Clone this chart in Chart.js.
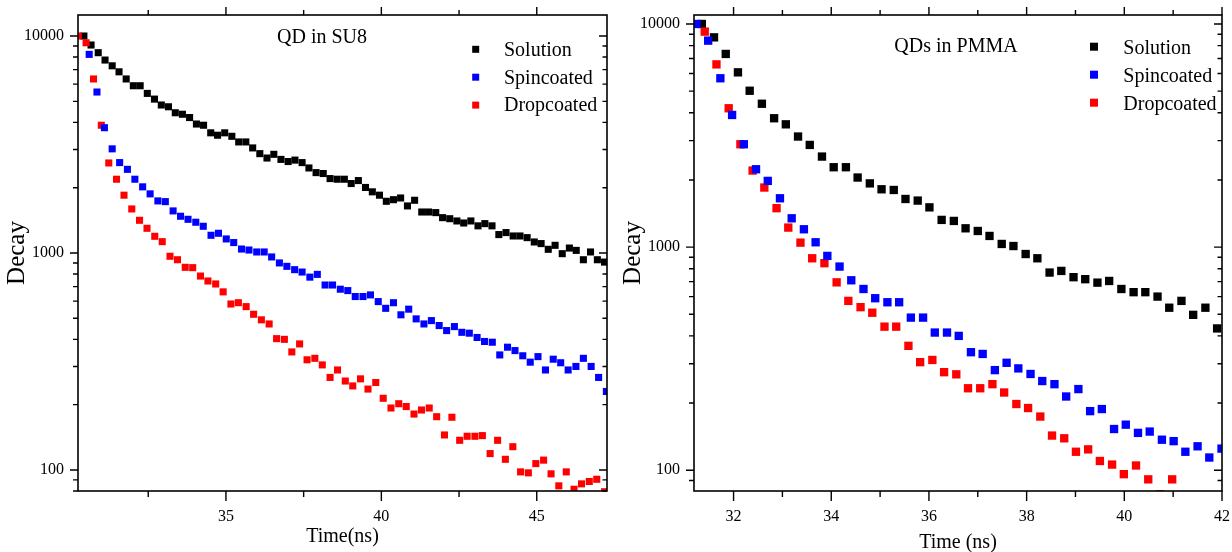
<!DOCTYPE html>
<html><head><meta charset="utf-8">
<script src="https://cdn.jsdelivr.net/npm/chart.js@4.4.0/dist/chart.umd.min.js"></script>
<style>
html,body{margin:0;padding:0;background:#fff;}
#wrap{position:relative;width:1232px;height:552px;overflow:hidden;background:#fff;}
.panel{position:absolute;top:0;width:616px;height:552px;}
</style></head><body>
<div id="wrap">
<div class="panel" style="left:0"><canvas id="c1" width="616" height="552"></canvas></div>
<div class="panel" style="left:616px"><canvas id="c2" width="616" height="552"></canvas></div>
</div>
<script>
// ---------- Left panel: QD in SU8 ----------
const su8TimeSolution = [30.43,30.66,30.89,31.11,31.34,31.56,31.79,32.02,32.24,32.47,32.70,32.92,33.15,33.37,33.60,33.83,34.05,34.28,34.51,34.73,34.96,35.19,35.41,35.64,35.86,36.09,36.32,36.54,36.77,37.00,37.22,37.45,37.67,37.90,38.13,38.35,38.58,38.81,39.03,39.26,39.49,39.71,39.94,40.16,40.39,40.62,40.84,41.07,41.30,41.52,41.75,41.97,42.20,42.43,42.65,42.88,43.11,43.33,43.56,43.78,44.01,44.24,44.46,44.69,44.92,45.14,45.37,45.59,45.82,46.05,46.27,46.50,46.73,46.95,47.18];
const su8Solution = [10000,9090,8380,7750,7290,6840,6340,5900,5900,5440,5120,4810,4720,4430,4360,4210,3930,3880,3580,3490,3580,3450,3250,3250,3050,2870,2740,2850,2700,2640,2680,2610,2466,2347,2324,2203,2188,2188,2090,2157,2005,1914,1847,1731,1761,1793,1648,1750,1545,1545,1535,1455,1439,1405,1375,1405,1334,1366,1334,1216,1242,1198,1198,1177,1124,1105,1040,1085,993,1054,1028,931,1011,931,908];

const su8TimeSpin = [30.60,30.85,31.09,31.34,31.58,31.83,32.07,32.32,32.56,32.81,33.05,33.30,33.54,33.78,34.03,34.27,34.52,34.76,35.01,35.25,35.50,35.74,35.99,36.23,36.47,36.72,36.96,37.21,37.45,37.70,37.94,38.19,38.43,38.68,38.92,39.16,39.41,39.65,39.90,40.14,40.39,40.63,40.88,41.12,41.37,41.61,41.86,42.10,42.35,42.59,42.83,43.08,43.32,43.57,43.81,44.06,44.30,44.55,44.79,45.04,45.28,45.53,45.77,46.01,46.26,46.50,46.75,46.99,47.24];
const su8Spin = [8230,5520,3780,3020,2610,2430,2188,2018,1873,1738,1725,1563,1477,1430,1386,1328,1207,1233,1161,1117,1043,1032,1011,1011,959,900,868,838,817,774,797,712,712,681,671,630,630,641,597,556,590,519,551,497,471,488,463,439,458,431,427,408,391,388,339,368,355,336,314,333,289,324,312,289,300,327,300,267,230];

const su8TimeDrop = [30.25,30.50,30.74,30.99,31.23,31.48,31.72,31.97,32.22,32.46,32.71,32.95,33.20,33.44,33.69,33.93,34.18,34.42,34.67,34.91,35.16,35.40,35.65,35.89,36.14,36.39,36.63,36.88,37.12,37.37,37.61,37.86,38.10,38.35,38.59,38.84,39.08,39.33,39.57,39.82,40.06,40.31,40.56,40.80,41.05,41.29,41.54,41.78,42.03,42.27,42.52,42.76,43.01,43.25,43.50,43.74,43.99,44.23,44.48,44.73,44.97,45.22,45.46,45.71,45.95,46.20,46.44,46.69,46.93,47.18];
const su8Drop = [10000,9310,6340,3880,2600,2188,1847,1596,1415,1300,1194,1128,966,931,859,856,783,743,720,662,582,590,566,522,492,471,403,400,350,381,322,327,305,267,289,257,244,263,236,253,214,193,202,196,181,189,193,176,145,175,137,143,143,144,119,137,112,128,98,97,107,111,96,84.5,98,81.5,86.3,88.5,90.6,79.4];

// ---------- Right panel: QDs in PMMA ----------
const pmmaTimeSolution = [31.35,31.60,31.84,32.09,32.33,32.58,32.83,33.07,33.32,33.56,33.81,34.05,34.30,34.54,34.79,35.03,35.28,35.52,35.77,36.01,36.26,36.51,36.75,37.00,37.24,37.49,37.73,37.98,38.22,38.47,38.71,38.96,39.20,39.45,39.69,39.94,40.19,40.43,40.68,40.92,41.17,41.41,41.66,41.90];
const pmmaSolution = [10000,8710,7340,6070,5020,4390,3780,3550,3130,2870,2545,2280,2280,2050,1930,1816,1803,1643,1616,1507,1324,1310,1214,1181,1122,1033,1011,931,891,769,782,733,718,693,705,649,628,628,600,535,574,497,535,432];

const pmmaTimeSpin = [31.24,31.48,31.73,31.97,32.21,32.46,32.70,32.95,33.19,33.44,33.68,33.92,34.17,34.41,34.66,34.90,35.15,35.39,35.63,35.88,36.12,36.37,36.61,36.86,37.10,37.35,37.59,37.83,38.08,38.32,38.57,38.81,39.06,39.30,39.54,39.79,40.03,40.28,40.52,40.77,41.01,41.25,41.50,41.74,41.99];
const pmmaSpin = [10000,8420,5710,3910,2890,2233,1980,1655,1346,1202,1051,913,818,710,649,590,566,566,483,483,414,414,400,338,332,281,303,286,270,251,243,214,231,184,188,153,160,147,149,137,135,121,128,114,125];

const pmmaTimeDrop = [31.41,31.65,31.90,32.14,32.39,32.63,32.88,33.12,33.37,33.61,33.86,34.11,34.35,34.60,34.84,35.09,35.33,35.58,35.82,36.07,36.31,36.56,36.80,37.05,37.30,37.54,37.79,38.03,38.28,38.52,38.77,39.01,39.26,39.50,39.75,39.99,40.24,40.49,40.73,40.98];
const pmmaDrop = [9240,6590,4190,2890,2203,1849,1494,1223,1047,891,847,695,574,538,508,440,440,361,305,312,275,269,233,233,243,223,198,190,174,143,139,121,124,110,106,96,105,91,78,91];

// ---------- Labels / ticks ----------
const seriesNames = ['Solution', 'Spincoated', 'Dropcoated'];
const seriesColors = ['#000000', '#0000ff', '#ff0000'];
const yTickLabels = [100, 1000, 10000];
const su8XTicks = [35, 40, 45];
const pmmaXTicks = [32, 34, 36, 38, 40, 42];

const FONT = '"Liberation Serif", "Times New Roman", serif';
Chart.defaults.color = '#000';

function pts(t, v) { return t.map((x, i) => ({x: x, y: v[i]})); }

const decor = {
  id: 'decor',
  afterDatasetsDraw(chart, args, o) {
    const ctx = chart.ctx, a = chart.chartArea;
    const xs = chart.scales.x, ys = chart.scales.y;
    ctx.save();
    ctx.strokeStyle = '#000';
    ctx.lineWidth = 1.4;
    ctx.beginPath();
    const start = Math.ceil(xs.min / o.xMinor - 1e-9);
    for (let k = start; k * o.xMinor <= xs.max + 1e-9; k++) {
      const v = k * o.xMinor;
      const r = v / o.xMajor;
      const major = Math.abs(r - Math.round(r)) < 1e-6;
      const px = xs.getPixelForValue(v);
      ctx.moveTo(px, a.bottom); ctx.lineTo(px, a.bottom + (major ? 10 : 6));
      ctx.moveTo(px, a.top); ctx.lineTo(px, a.top - (major ? 8 : 5));
    }
    const e0 = Math.floor(Math.log10(ys.min)), e1 = Math.ceil(Math.log10(ys.max));
    for (let e = e0; e <= e1; e++) {
      for (let m = 1; m <= 9; m++) {
        const v = m * Math.pow(10, e);
        if (v < ys.min || v > ys.max) continue;
        const py = ys.getPixelForValue(v);
        const major = m === 1;
        ctx.moveTo(a.left, py); ctx.lineTo(a.left - (major ? 8 : 5), py);
        ctx.moveTo(a.right, py); ctx.lineTo(a.right - (major ? 8 : 4.5), py);
      }
    }
    ctx.stroke();
    ctx.lineWidth = 1.6;
    ctx.strokeRect(a.left, a.top, a.right - a.left, a.bottom - a.top);
    ctx.fillStyle = '#000';
    ctx.font = '20px ' + FONT;
    ctx.textAlign = 'center';
    ctx.textBaseline = 'alphabetic';
    ctx.fillText(o.title, o.titleX, o.titleY);
    ctx.textAlign = 'left';
    chart.data.datasets.forEach((ds, i) => {
      const y = o.legY + i * o.legDy;
      ctx.fillStyle = ds.backgroundColor;
      ctx.fillRect(o.legX - o.legS / 2, y - o.legS / 2, o.legS, o.legS);
      ctx.fillStyle = '#000';
      ctx.fillText(ds.label, o.legTextX, y + o.legTextDy);
    });
    ctx.restore();
  }
};

function zeroPad(s) { s.paddingTop = 0; s.paddingBottom = 0; s.paddingLeft = 0; s.paddingRight = 0; }

function makeChart(id, cfg) {
  const sets = [
    {label: seriesNames[0], data: pts(cfg.tSol, cfg.sol), backgroundColor: seriesColors[0], borderColor: seriesColors[0], order: 3},
    {label: seriesNames[1], data: pts(cfg.tSpin, cfg.spin), backgroundColor: seriesColors[1], borderColor: seriesColors[1], order: 1},
    {label: seriesNames[2], data: pts(cfg.tDrop, cfg.drop), backgroundColor: seriesColors[2], borderColor: seriesColors[2], order: 2}
  ].map(d => Object.assign(d, {
    pointStyle: 'rect', pointRadius: cfg.r, pointHoverRadius: cfg.r,
    pointBorderWidth: 0, borderWidth: 0, showLine: false, clip: 0
  }));
  return new Chart(document.getElementById(id), {
    type: 'scatter',
    data: {datasets: sets},
    options: {
      responsive: false, animation: false, events: [],
      layout: {padding: {left: 0, right: cfg.padR, top: 15, bottom: 0}},
      plugins: {legend: {display: false}, tooltip: {enabled: false}, decor: cfg.decor},
      scales: {
        x: {
          type: 'linear', min: cfg.xMin, max: cfg.xMax,
          grid: {display: false, drawTicks: false}, border: {display: false},
          afterFit(s) { s.height = 61; zeroPad(s); },
          afterBuildTicks(s) { s.ticks = cfg.xTicks.map(v => ({value: v})); },
          ticks: {autoSkip: false, maxRotation: 0, minRotation: 0, padding: 16, color: '#000',
                  font: {family: FONT, size: 16}, callback: v => String(v)},
          title: {display: true, text: cfg.xTitle, color: '#000', font: {family: FONT, size: 20},
                  padding: {top: 0, bottom: cfg.xTitlePad}}
        },
        y: {
          type: 'logarithmic', min: cfg.yMin, max: cfg.yMax,
          grid: {display: false, drawTicks: false}, border: {display: false},
          afterFit(s) { s.width = 78; zeroPad(s); },
          afterBuildTicks(s) { s.ticks = yTickLabels.map(v => ({value: v})); },
          ticks: {autoSkip: false, padding: 14, color: '#000', font: {family: FONT, size: 16},
                  callback: v => String(v)},
          title: {display: true, text: 'Decay', color: '#000', font: {family: FONT, size: 25},
                  padding: {top: 2.5, bottom: 0}}
        }
      }
    },
    plugins: [decor]
  });
}

makeChart('c1', {
  tSol: su8TimeSolution, sol: su8Solution,
  tSpin: su8TimeSpin, spin: su8Spin,
  tDrop: su8TimeDrop, drop: su8Drop,
  xMin: 30.24, xMax: 47.26, yMin: 80, yMax: 12500, r: 5, padR: 9,
  xTicks: su8XTicks, xTitle: 'Time(ns)', xTitlePad: 3,
  decor: {xMinor: 2.5, xMajor: 5, title: 'QD in SU8', titleX: 322, titleY: 43,
          legX: 475.7, legY: 49.3, legDy: 27.9, legS: 7, legTextX: 504, legTextDy: 6.3}
});

makeChart('c2', {
  tSol: pmmaTimeSolution, sol: pmmaSolution,
  tSpin: pmmaTimeSpin, spin: pmmaSpin,
  tDrop: pmmaTimeDrop, drop: pmmaDrop,
  xMin: 31.19, xMax: 42, yMin: 80.7, yMax: 10970, r: 5.9, padR: 10,
  xTicks: pmmaXTicks, xTitle: 'Time (ns)', xTitlePad: -3,
  decor: {xMinor: 1, xMajor: 2, title: 'QDs in PMMA', titleX: 340, titleY: 51.5,
          legX: 478, legY: 46.7, legDy: 28, legS: 8, legTextX: 507.3, legTextDy: 7.6}
});
</script>
</body></html>
